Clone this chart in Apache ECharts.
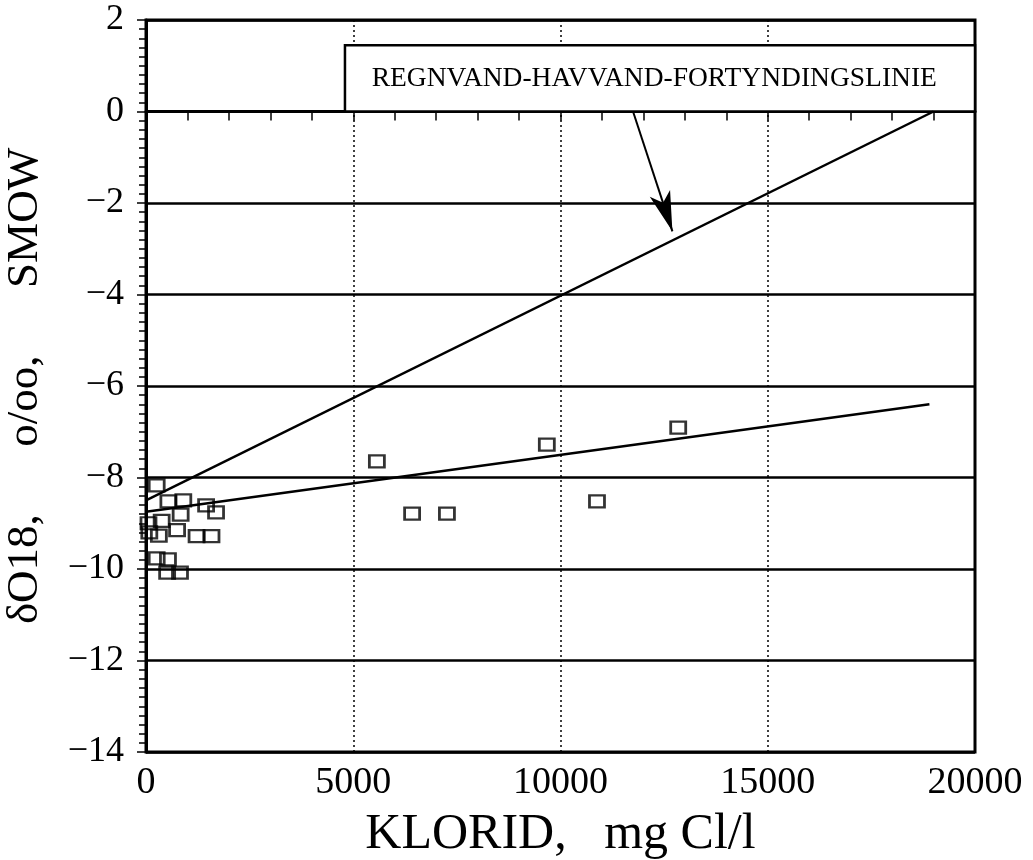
<!DOCTYPE html>
<html>
<head>
<meta charset="utf-8">
<script src="https://cdn.jsdelivr.net/npm/echarts@6/dist/echarts.min.js"></script>
<style>
html,body{margin:0;padding:0;background:#fff;}
#c{width:1033px;height:860px;}
</style>
</head>
<body>
<div id="c"></div>
<script>
// ---- data ----
const xTicks = [0, 5000, 10000, 15000, 20000];
const yTicks = [2, 0, -2, -4, -6, -8, -10, -12, -14];
const pointsX = [258, 540, 900, 1450, 1690, 836, 378, 60, 80, 310, 750, 1220, 1580, 258, 530, 510, 820, 5570, 6420, 7260, 9670, 10880, 12840];
const pointsY = [-8.17, -8.52, -8.50, -8.61, -8.76, -8.81, -8.95, -9.0, -9.2, -9.27, -9.15, -9.28, -9.28, -9.77, -9.79, -10.08, -10.08, -7.65, -8.79, -8.79, -7.28, -8.52, -6.91];
const mixingLineX = [0, 19000];
const mixingLineY = [-8.5, 0];
const fitLineX = [0, 18900];
const fitLineY = [-8.75, -6.4];
const legendText = 'REGNVAND-HAVVAND-FORTYNDINGSLINIE';
const legendBoxX = [4800, 20000];
const legendBoxY = [1.45, 0];
const arrowFrom = [11750, 0];
const arrowTo = [12700, -2.62];
const xName = 'KLORID,   mg Cl/l';
const yName = 'δO18,      o/oo,      SMOW';

const FONT = '"Liberation Serif", "DejaVu Serif", serif';
const zip = (a, b) => a.map((v, i) => [v, b[i]]);

const chart = echarts.init(document.getElementById('c'), null, {renderer: 'canvas'});
chart.setOption({
  animation: false,
  backgroundColor: '#fff',
  grid: {left: 146, right: 58, top: 20, bottom: 108, containLabel: false, outerBoundsMode: 'none',
    show: true, borderColor: '#000', borderWidth: 3, backgroundColor: 'transparent'},
  xAxis: {
    type: 'value', min: xTicks[0], max: xTicks[xTicks.length - 1], interval: 5000,
    name: xName, nameLocation: 'middle', nameGap: 58,
    nameTextStyle: {fontFamily: FONT, fontSize: 50, color: '#000'},
    axisLine: {show: true, lineStyle: {color: '#000', width: 3}},
    axisTick: {show: true, inside: false, length: 9, lineStyle: {color: '#000', width: 1.5}},
    minorTick: {show: true, splitNumber: 5, length: 9, lineStyle: {color: '#000', width: 1.5}},
    axisLabel: {fontFamily: FONT, fontSize: 38, color: '#000', margin: 12, formatter: v => String(v)},
    splitLine: {show: true, lineStyle: {color: '#000', type: [2, 3], width: 1.5}}
  },
  yAxis: {
    type: 'value', min: yTicks[yTicks.length - 1], max: yTicks[0], interval: 2,
    name: yName, nameLocation: 'middle', nameGap: 98,
    nameTextStyle: {fontFamily: FONT, fontSize: 45, color: '#000'},
    axisLine: {show: true, lineStyle: {color: '#000', width: 3}},
    axisTick: {show: true, inside: false, length: 9, lineStyle: {color: '#000', width: 1.5}},
    minorTick: {show: true, splitNumber: 10, length: 7, lineStyle: {color: '#000', width: 1.5}},
    axisLabel: {fontFamily: FONT, fontSize: 36, color: '#000', margin: 22,
      formatter: v => String(v).replace('-', '\u2212')},
    splitLine: {show: true, lineStyle: {color: '#000', width: 2.5}}
  },
  series: [
    {
      type: 'line', data: zip(mixingLineX, mixingLineY), symbol: 'none',
      lineStyle: {color: '#000', width: 2.5}, z: 3,
      markArea: {
        silent: true,
        itemStyle: {color: '#fff', borderColor: '#000', borderWidth: 2.5},
        label: {show: true, position: 'insideLeft', distance: 28, fontFamily: FONT, fontSize: 27.5, color: '#000'},
        data: [[{name: legendText, coord: [legendBoxX[0], legendBoxY[0]]}, {coord: [legendBoxX[1], legendBoxY[1]]}]]
      },
      markLine: {
        silent: true, symbol: ['none', 'arrow'], symbolSize: [16, 40],
        lineStyle: {color: '#000', width: 2, type: 'solid'},
        label: {show: false},
        data: [[{coord: arrowFrom}, {coord: arrowTo}]]
      }
    },
    {
      type: 'line', data: zip(fitLineX, fitLineY), symbol: 'none',
      lineStyle: {color: '#000', width: 2.5}, z: 3
    },
    {
      type: 'scatter', data: zip(pointsX, pointsY), symbol: 'rect', symbolSize: [15, 12],
      itemStyle: {color: 'rgba(255,255,255,0)', borderColor: '#000', borderWidth: 2.5}, z: 4
    }
  ]
});
</script>
</body>
</html>
